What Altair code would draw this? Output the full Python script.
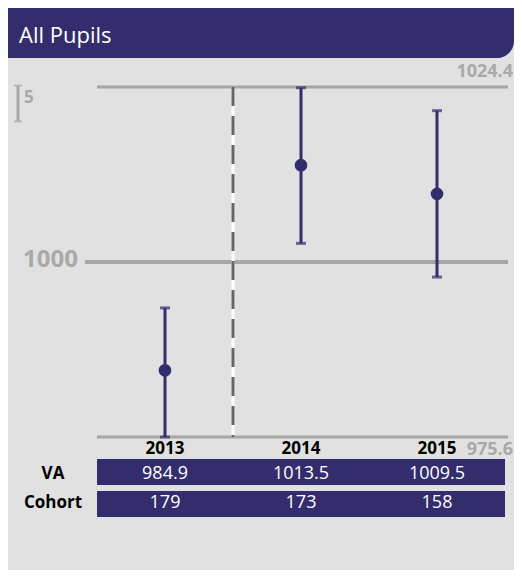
import altair as alt
import pandas as pd

# ---- data ----
years = ["2013", "2014", "2015"]
va = [984.9, 1013.5, 1009.5]
ci_low = [975.6, 1002.6, 997.9]
ci_high = [993.6, 1024.3, 1021.1]
cohort = [179, 173, 158]
y_min, y_max, y_ref = 975.6, 1024.4, 1000
scale_bar = 5
row_names = ["VA", "Cohort"]
title_text = "All Pupils"

PURPLE = "#332c6d"
GRAY = "#a6a6a6"
LABEL_GRAY = "#a9a9a9"
BG = "#e1e1e1"
FONT = "Open Sans"

W, H = 506, 562

pts = pd.DataFrame({
    "year": years,
    "pos": [i + 0.5 for i in range(len(years))],
    "va": va, "lo": ci_low, "hi": ci_high,
})

xs = alt.Scale(domain=[0, len(years)], range=[89, 497], nice=False, zero=False)
ys = alt.Scale(domain=[y_min, y_max], range=[429, 79], nice=False, zero=False)

def X(field="pos"):
    return alt.X(f"{field}:Q", scale=xs, axis=None)

def Y(field):
    return alt.Y(f"{field}:Q", scale=ys, axis=None)

one = pd.DataFrame({"a": [0]})

header = alt.Chart(one).mark_rect(color=PURPLE, cornerRadiusBottomRight=17).encode(
    x=alt.value(0), x2=alt.value(W), y=alt.value(0), y2=alt.value(50))
title = alt.Chart(one).mark_text(text=title_text, font=FONT, fontSize=22, color="white",
                                 align="left", baseline="alphabetic").encode(
    x=alt.value(11), y=alt.value(35))

lines = pd.DataFrame({"v": [y_max, y_min]})
hlines = alt.Chart(lines).mark_rule(color=GRAY, strokeWidth=3).encode(
    y=Y("v"), x=alt.value(89), x2=alt.value(500))
refline = alt.Chart(pd.DataFrame({"v": [y_ref]})).mark_rule(color=GRAY, strokeWidth=4).encode(
    y=Y("v"), x=alt.value(77), x2=alt.value(500))

div = pd.DataFrame({"p": [1.0], "t": [y_max], "b": [y_min]})
vwhite = alt.Chart(div).mark_rule(color="white", strokeWidth=3).encode(
    x=X("p"), y=Y("t"), y2=alt.Y2("b"))
vdash = alt.Chart(div).mark_rule(color="#666666", strokeWidth=3, strokeDash=[19, 10]).encode(
    x=X("p"), y=Y("t"), y2=alt.Y2("b"))

ebar = alt.Chart(pts).mark_rule(color=PURPLE, strokeWidth=3).encode(
    x=X(), y=Y("lo"), y2=alt.Y2("hi"))
cap_lo = alt.Chart(pts).mark_tick(color=PURPLE, orient="horizontal", size=10, thickness=3).encode(
    x=X(), y=Y("lo"))
cap_hi = alt.Chart(pts).mark_tick(color=PURPLE, orient="horizontal", size=10, thickness=3).encode(
    x=X(), y=Y("hi"))
dots = alt.Chart(pts).mark_circle(color=PURPLE, opacity=1, size=160).encode(
    x=X(), y=Y("va"))

year_lbl = alt.Chart(pts).transform_calculate(b=str(y_min)).mark_text(
    font=FONT, fontSize=17, fontWeight="bold", color="black", baseline="alphabetic", dy=17
).encode(x=X(), y=Y("b"), text="year:N")

ext = pd.DataFrame({"v": [y_max, y_min], "lbl": [str(y_max), str(y_min)]})
max_lbl = alt.Chart(ext.iloc[[0]]).mark_text(font=FONT, fontSize=18, fontWeight="bold",
                                             color=LABEL_GRAY, align="right",
                                             baseline="alphabetic", dy=-10).encode(
    x=alt.value(W - 1), y=Y("v"), text="lbl:N")
min_lbl = alt.Chart(ext.iloc[[1]]).mark_text(font=FONT, fontSize=18, fontWeight="bold",
                                             color=LABEL_GRAY, align="right",
                                             baseline="alphabetic", dy=18).encode(
    x=alt.value(W - 1), y=Y("v"), text="lbl:N")
ref_lbl = alt.Chart(pd.DataFrame({"v": [y_ref], "lbl": [str(y_ref)]})).mark_text(
    font=FONT, fontSize=24, fontWeight="bold", color=LABEL_GRAY, align="right",
    baseline="alphabetic", dy=5).encode(x=alt.value(70), y=Y("v"), text="lbl:N")

sb = pd.DataFrame({"t": [y_max + 0.2], "b": [y_max + 0.2 - scale_bar], "lbl": [str(scale_bar)]})
sb_rule = alt.Chart(sb).mark_rule(color=LABEL_GRAY, strokeWidth=3).encode(
    x=alt.value(10), y=Y("t"), y2=alt.Y2("b"))
sb_cap_t = alt.Chart(sb).mark_tick(color=LABEL_GRAY, orient="horizontal", size=8, thickness=2).encode(
    x=alt.value(10), y=Y("t"))
sb_cap_b = alt.Chart(sb).mark_tick(color=LABEL_GRAY, orient="horizontal", size=8, thickness=2).encode(
    x=alt.value(10), y=Y("b"))
sb_txt = alt.Chart(sb).mark_text(font=FONT, fontSize=17, fontWeight="bold", color=LABEL_GRAY,
                                 align="left", baseline="alphabetic", dy=17).encode(
    x=alt.value(16), y=Y("t"), text="lbl:N")

# ---- table ----
rs = alt.Scale(domain=row_names, range=[451, 509], paddingInner=0.1875, paddingOuter=0)
rows = pd.DataFrame({"row": row_names, "s": [0, 0], "e": [len(years)] * 2})
cells = pd.DataFrame({
    "row": ["VA"] * len(years) + ["Cohort"] * len(years),
    "pos": [i + 0.5 for i in range(len(years))] * 2,
    "val": [f"{v:.1f}" for v in va] + [str(c) for c in cohort],
})
row_rect = alt.Chart(rows).mark_rect(color=PURPLE).encode(
    x=alt.X("s:Q", scale=xs, axis=None), x2="e:Q",
    y=alt.Y("row:N", scale=rs, axis=None))
row_txt = alt.Chart(cells).mark_text(font=FONT, fontSize=18, color="white").encode(
    x=X(), y=alt.Y("row:N", scale=rs, axis=None), text="val:N")
row_lbl = alt.Chart(rows).mark_text(font=FONT, fontSize=17, fontWeight="bold", color="black").encode(
    x=alt.value(45), y=alt.Y("row:N", scale=rs, axis=None), text="row:N")

chart = alt.layer(
    header, title, hlines, refline, vwhite, vdash, ebar, cap_lo, cap_hi, dots,
    year_lbl, max_lbl, min_lbl, ref_lbl, sb_rule, sb_cap_t, sb_cap_b, sb_txt,
    row_rect, row_txt, row_lbl,
).resolve_scale(y="independent").properties(
    width=W, height=H, padding=0, autosize="none", background=BG
).configure_view(stroke=None)

chart.save("out.html", embed_options={"renderer": "svg", "actions": False})
